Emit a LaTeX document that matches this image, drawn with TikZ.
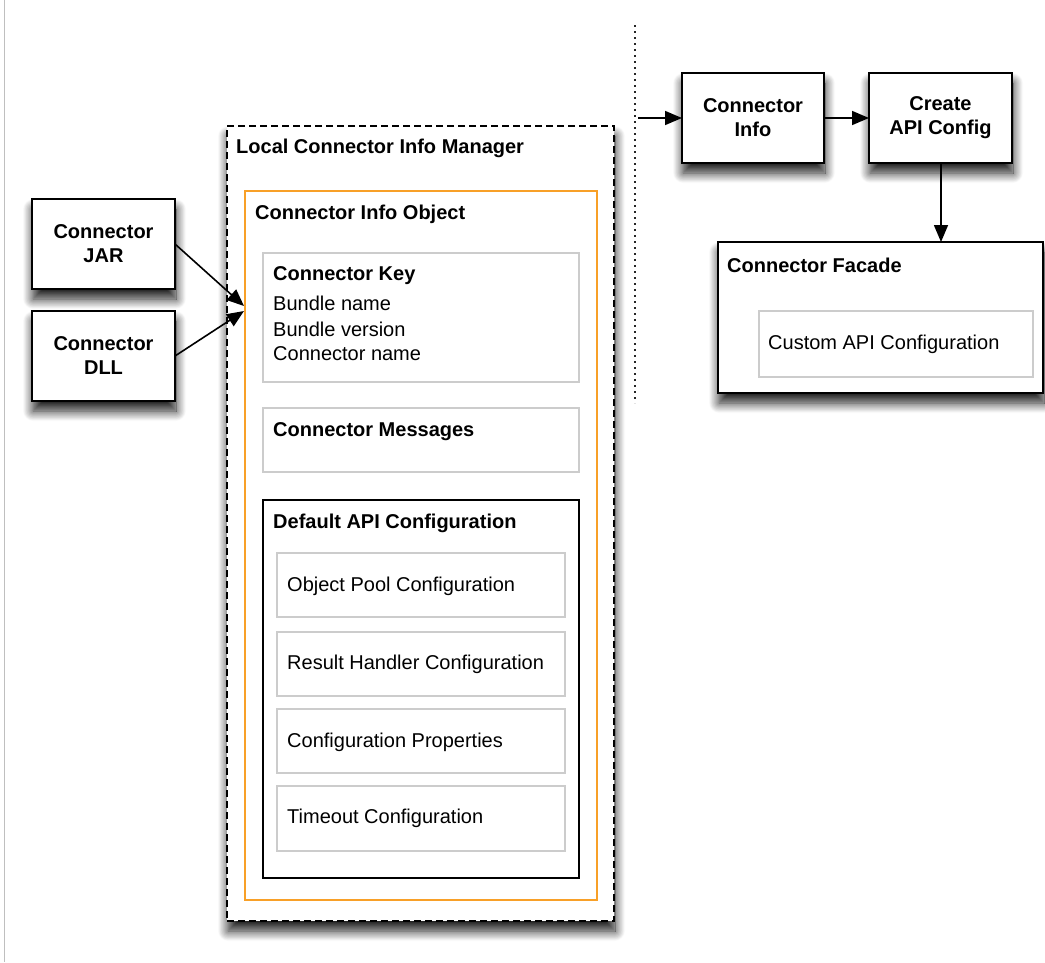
\documentclass[tikz,border=0pt]{standalone}
\usepackage{fontspec}
\setmainfont{Liberation Sans}
\usetikzlibrary{arrows.meta,shadows.blur}
\definecolor{frameorange}{RGB}{248,160,40}
\begin{document}
\begin{tikzpicture}[x=1pt,y=-1pt,
  box/.style={draw=black, line width=1.5pt, fill=white, inner sep=0pt, outer sep=0pt, anchor=north west},
  shadowed/.style={blur shadow={shadow xshift=1pt, shadow yshift=-10pt, shadow blur radius=10pt, shadow blur steps=16, shadow opacity=90}},
  graybox/.style={draw=black!20, line width=1.3pt, fill=white, inner sep=0pt, outer sep=0pt, anchor=north west},
  orangebox/.style={draw=frameorange, line width=1.5pt, fill=white, inner sep=0pt, outer sep=0pt, anchor=north west},
  lbl/.style={anchor=west, inner sep=0pt, font=\fontsize{20}{24}\selectfont},
  blbl/.style={anchor=west, inner sep=0pt, font=\fontsize{20}{24}\selectfont\bfseries},
  ctxt/.style={align=center, font=\fontsize{20}{24}\selectfont\bfseries},
  arr/.style={-{Triangle[length=17pt,width=14pt]}, line width=1.6pt},
]
\useasboundingbox (0,0) rectangle (1045,962);
% left page edge line
\draw[black!25, line width=1pt] (4,0) -- (4,962);

% Local Connector Info Manager
\node[box, shadowed, dash pattern=on 7pt off 4pt, minimum width=387pt, minimum height=795pt] (mgr) at (227,126) {};
\node[blbl] (mgrt) at (236,148) {Local Connector Info Manager};

\node[orangebox, minimum width=352pt, minimum height=709pt] (obj) at (245,191) {};
\node[blbl] (objt) at (255,214) {Connector Info Object};

\node[graybox, minimum width=316pt, minimum height=129pt] (key) at (263,253) {};
\node[blbl] (keyt) at (273,276) {Connector Key};
\node[lbl] (k1) at (273,303) {Bundle name};
\node[lbl] (k2) at (273,329) {Bundle version};
\node[lbl] (k3) at (273,354) {Connector name};

\node[graybox, minimum width=316pt, minimum height=64pt] (msg) at (263,408) {};
\node[blbl] (msgt) at (273,432) {Connector Messages};

\node[box, minimum width=316pt, minimum height=378pt] (def) at (263,500) {};
\node[blbl] (deft) at (273,523) {Default API Configuration};

\node[graybox, minimum width=288pt, minimum height=64pt] (pool) at (277,553) {};
\node[lbl] (poolt) at (287,586) {Object Pool Configuration};
\node[graybox, minimum width=288pt, minimum height=64pt] (res) at (277,632) {};
\node[lbl] (rest) at (287,664) {Result Handler Configuration};
\node[graybox, minimum width=288pt, minimum height=64pt] (prop) at (277,709) {};
\node[lbl] (propt) at (287,742) {Configuration Properties};
\node[graybox, minimum width=288pt, minimum height=65pt] (tout) at (277,786) {};
\node[lbl] (toutt) at (287,818) {Timeout Configuration};

% Connector JAR / DLL
\node[box, shadowed, ctxt, minimum width=143pt, minimum height=90pt] (jar) at (32,199) {Connector\\JAR};
\node[box, shadowed, ctxt, minimum width=143pt, minimum height=90pt] (dll) at (32,311) {Connector\\DLL};
\coordinate (tipA) at (244,306);
\coordinate (tipB) at (244,311);
\draw[arr] (jar.east) -- (tipA);
\draw[arr] (dll.east) -- (tipB);

% dotted separator
\coordinate (d1) at (635,25);
\coordinate (d2) at (635,403);
\draw[line width=2pt, dash pattern=on 2pt off 4pt, black!85] (d1) -- (d2);

% right side
\node[box, shadowed, ctxt, minimum width=142pt, minimum height=90pt] (info) at (682,73) {Connector\\Info};
\node[box, shadowed, ctxt, minimum width=143pt, minimum height=90pt] (api) at (869,73) {Create\\API Config};
\coordinate (din) at (638,118);
\draw[arr] (din) -- (info.west);
\draw[arr] (info.east) -- (api.west);

\node[box, shadowed, minimum width=325pt, minimum height=151pt] (fac) at (718,242) {};
\node[blbl] (fact) at (727,265) {Connector Facade};
\node[graybox, minimum width=274pt, minimum height=66pt] (cust) at (759,311) {};
\node[lbl] (custt) at (768,344) {Custom API Configuration};
\draw[arr] (api.south -| 941,0) -- (fac.north -| 941,0);
\end{tikzpicture}
\end{document}
